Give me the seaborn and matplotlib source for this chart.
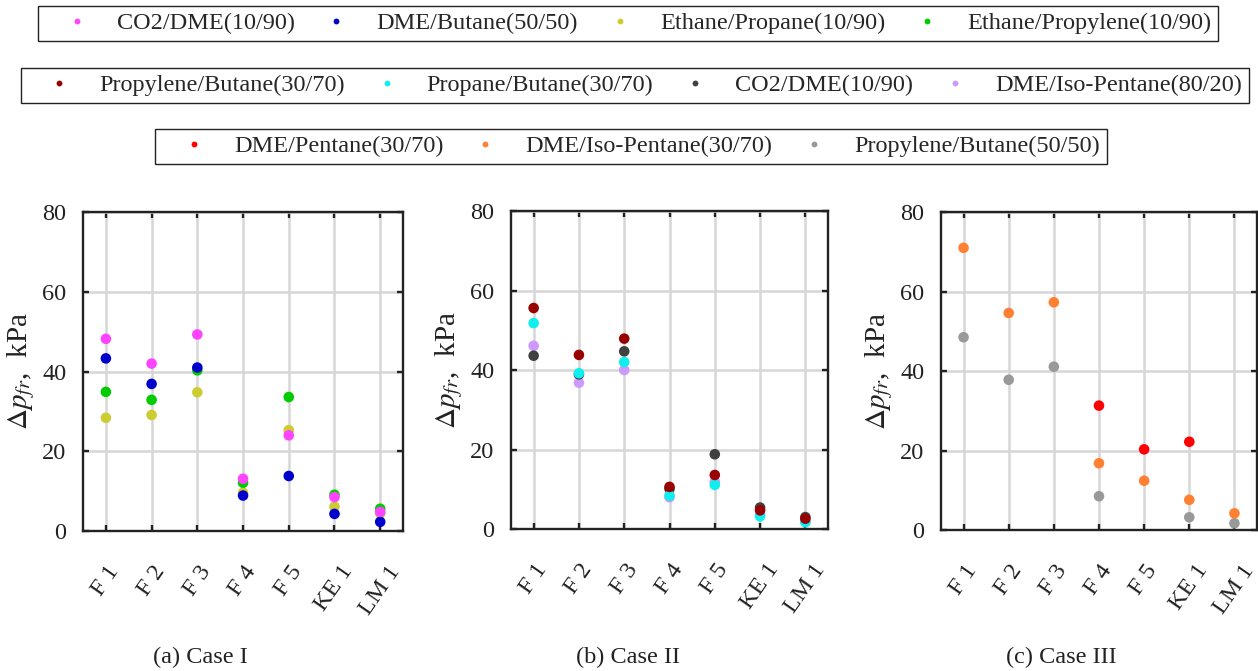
import pandas as pd
import numpy as np
import matplotlib
matplotlib.use('Agg')
import matplotlib.pyplot as plt
from matplotlib.lines import Line2D
import seaborn as sns

sns.set_theme(style='white')
plt.rcParams['font.family'] = ['Liberation Serif', 'DejaVu Serif']
plt.rcParams['mathtext.fontset'] = 'stix'

# kategoriler
cases = ['F 1', 'F 2', 'F 3', 'F 4', 'F 5', 'KE 1', 'LM 1']

# Case I
co2_dme_1 = [48.2, 42.0, 49.3, 13.1, 24.0, 8.5, 4.8]
dme_butane = [43.3, 36.9, 41.0, 8.9, 13.8, 4.3, 2.3]
ethane_propane = [28.4, 29.1, 34.8, 9.6, 25.3, 6.1, 4.4]
ethane_propylene = [34.9, 32.9, 40.3, 12.1, 33.6, 9.1, 5.6]

# Case II
propylene_butane_3070 = [55.6, 43.8, 47.9, 10.6, 13.6, 4.7, 2.6]
propane_butane = [51.8, 39.2, 42.0, 8.4, 11.1, 3.2, 1.7]
co2_dme_2 = [43.6, 38.9, 44.7, 10.1, 18.8, 5.4, 3.0]
dme_isopentane_8020 = [46.1, 36.8, 40.0, 8.0, 11.9, 3.6, 1.9]

# Case III
dme_pentane = [np.nan, np.nan, np.nan, 31.3, 20.3, 22.2, np.nan]
dme_isopentane_3070 = [71.0, 54.6, 57.3, 16.8, 12.4, 7.6, 4.2]
propylene_butane_5050 = [48.5, 37.8, 41.1, 8.5, np.nan, 3.2, 1.7]

# (etiket, veri, renk) - listedeki sira legend sirasi
panel1 = [('CO2/DME(10/90)', co2_dme_1, '#ff44ff'),
          ('DME/Butane(50/50)', dme_butane, '#0000cc'),
          ('Ethane/Propane(10/90)', ethane_propane, '#cccc33'),
          ('Ethane/Propylene(10/90)', ethane_propylene, '#00cc00')]
panel2 = [('Propylene/Butane(30/70)', propylene_butane_3070, '#990000'),
          ('Propane/Butane(30/70)', propane_butane, '#11eeee'),
          ('CO2/DME(10/90)', co2_dme_2, '#404040'),
          ('DME/Iso-Pentane(80/20)', dme_isopentane_8020, '#cc99ff')]
panel3 = [('DME/Pentane(30/70)', dme_pentane, '#ff0000'),
          ('DME/Iso-Pentane(30/70)', dme_isopentane_3070, '#ff8033'),
          ('Propylene/Butane(50/50)', propylene_butane_5050, '#999999')]

# cizim sirasi (alttan uste)
orders = [[2, 3, 1, 0], [3, 2, 1, 0], [2, 1, 0]]

fig = plt.figure(figsize=(12.58, 6.71), dpi=100)
axes = [fig.add_axes([0.066, 0.2086, 0.2544, 0.4754]),
        fig.add_axes([0.4062, 0.2116, 0.2520, 0.4739]),
        fig.add_axes([0.748, 0.2101, 0.2512, 0.4739])]
captions = ['(a) Case I', '(b) Case II', '(c) Case III']
caption_x = [200 / 1258, 628 / 1258, 1061 / 1258]

for ax, panel, order, cap, cx in zip(axes, [panel1, panel2, panel3], orders, captions, caption_x):
    rows = []
    for k in order:
        name, vals, col = panel[k]
        for c, v in zip(cases, vals):
            rows.append({'case': c, 'val': v, 'sid': str(k)})
    df = pd.DataFrame(rows)
    pal = {str(k): panel[k][2] for k in range(len(panel))}
    sns.scatterplot(data=df, x='case', y='val', hue='sid', palette=pal,
                    s=58, linewidth=0, legend=False, ax=ax, zorder=3)
    ax.set_xlim(-0.5, 6.5)
    ax.set_ylim(0, 80)
    ax.set_yticks([0, 20, 40, 60, 80])
    ax.set_xticks(range(len(cases)))
    ax.set_xticklabels(cases, rotation=55, ha='center', va='top')
    ax.grid(True, color='#d6d6d6', linewidth=1.8)
    ax.set_axisbelow(True)
    for sp in ax.spines.values():
        sp.set_color('#222222')
        sp.set_linewidth(1.7)
    ax.tick_params(axis='both', direction='in', length=4, width=1.7, color='#222222',
                   top=True, right=True, bottom=True, left=True, labelsize=17.5, labelcolor='#222222')
    ax.tick_params(axis='x', pad=22)
    ax.tick_params(axis='y', pad=12)
    ax.set_xlabel('')
    ax.set_ylabel(r'$\Delta p_{fr}$,  kPa', fontsize=21, color='#222222', labelpad=4)
    fig.text(cx, 1 - 657 / 671, cap, ha='center', va='center', fontsize=17.5, color='#222222')

legend_rows = [(panel1, 4, 0.965, 0.4993), (panel2, 4, 0.8726, 0.5046), (panel3, 3, 0.7817, 0.5016)]
for panel, nc, ly, lx in legend_rows:
    handles = [Line2D([], [], linestyle='none', marker='o', markersize=4.2,
                      markerfacecolor=col, markeredgewidth=0) for _, _, col in panel]
    labels = [name for name, _, _ in panel]
    fig.legend(handles, labels, ncol=nc, loc='center', bbox_to_anchor=(lx, ly),
               fontsize=17.5, frameon=True, fancybox=False, edgecolor='#222222',
               framealpha=1, borderpad=0.28, handlelength=2.6, handletextpad=0.35,
               columnspacing=0.42)
    fig.legends[-1].get_frame().set_linewidth(1.0)

fig.savefig('out.png', dpi=100)
